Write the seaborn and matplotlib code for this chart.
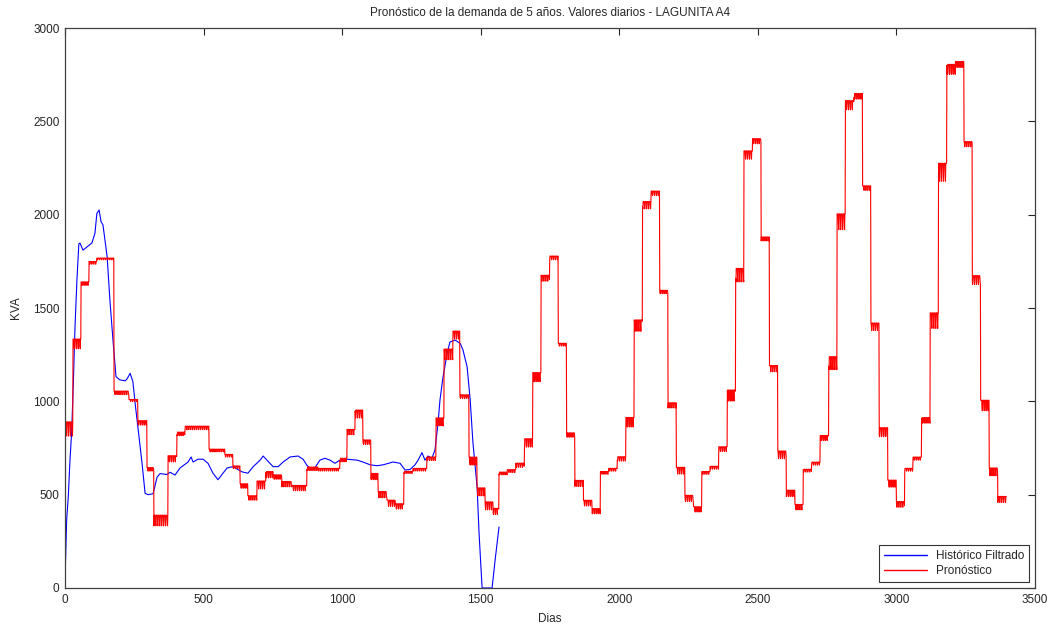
import numpy as np
import pandas as pd
import matplotlib
matplotlib.use("Agg")
import matplotlib.pyplot as plt
import seaborn as sns

# ---------------- data ----------------
# Histórico Filtrado (blue): day, KVA
hist_days = [0, 6, 12, 18, 24, 30, 36, 43, 50, 54, 65, 79, 97, 108, 115, 123, 130, 137,
             152, 162, 173, 184, 198, 217, 224, 235, 245, 253, 263, 278, 289, 300, 318,
             332, 343, 368, 379, 397, 415, 444, 455, 462, 480, 498, 516, 534, 552, 570,
             585, 606, 639, 660, 679, 704, 715, 733, 751, 769, 787, 812, 841, 859, 873,
             884, 902, 920, 938, 956, 974, 992, 1018, 1054, 1075, 1101, 1126, 1148, 1184,
             1209, 1227, 1245, 1263, 1274, 1288, 1299, 1310, 1324, 1335, 1346, 1353, 1364,
             1379, 1389, 1408, 1426, 1436, 1451, 1462, 1472, 1487, 1494, 1505, 1541, 1552,
             1566]
hist_kva = [40, 364, 493, 686, 835, 1093, 1393, 1650, 1843, 1848, 1810, 1827, 1848, 1900,
            2007, 2025, 1963, 1945, 1775, 1543, 1330, 1132, 1115, 1110, 1120, 1150, 1105,
            990, 862, 668, 507, 500, 505, 593, 613, 608, 620, 605, 643, 675, 702, 675, 690,
            690, 668, 615, 580, 615, 643, 650, 622, 615, 650, 685, 707, 678, 650, 650, 675,
            702, 707, 690, 657, 640, 645, 685, 695, 685, 668, 685, 690, 685, 675, 660, 655,
            660, 675, 668, 632, 635, 660, 685, 725, 685, 707, 695, 740, 883, 1007, 1130,
            1258, 1318, 1328, 1310, 1275, 1184, 1007, 777, 541, 295, 0, 0, 150, 327]

# Pronóstico (red), fitted part: segment start day, level, weekly swing (KVA)
fit_start = [0, 29, 58, 87, 115, 177, 231, 263, 296, 321, 372, 404, 433, 520, 577, 606,
             632, 660, 693, 725, 751, 783, 819, 873, 913, 992, 1018, 1047, 1075, 1104,
             1130, 1162, 1191, 1223, 1256, 1306, 1339, 1368, 1400, 1425, 1458, 1487, 1516,
             1545]
fit_level = [870, 1320, 1635, 1745, 1765, 1050, 1007, 890, 640, 375, 700, 830, 862, 740,
             712, 650, 552, 488, 562, 615, 600, 563, 542, 643, 637, 690, 842, 942, 787, 605,
             508, 462, 444, 622, 637, 697, 900, 1265, 1365, 1030, 690, 525, 450, 418]
fit_swing = [80, 55, 20, 15, 10, 20, 12, 25, 20, 60, 35, 20, 20, 15, 15, 15, 25, 25, 45,
             35, 25, 30, 30, 20, 15, 20, 30, 45, 25, 35, 35, 35, 30, 12, 15, 20, 45, 60,
             45, 20, 45, 45, 45, 35]

# Pronóstico (red), 5-year forecast: monthly levels per year
forecast_start_day = 1566
forecast_end_day = 3396
forecast_year1 = [617, 630, 663, 788, 1141, 1667, 1773, 1307, 825, 568, 462, 418]
forecast_year2 = [620, 637, 697, 900, 1420, 2060, 2120, 1590, 985, 637, 488, 428]
forecast_year3 = [620, 648, 750, 1045, 1693, 2330, 2400, 1875, 1183, 723, 515, 440]
forecast_year4 = [632, 670, 810, 1221, 1982, 2598, 2641, 2148, 1409, 846, 568, 455]
forecast_year5 = [637, 697, 905, 1452, 2250, 2791, 2812, 2384, 1661, 991, 632, 482]
month_swing_frac = [0.025, 0.025, 0.035, 0.06, 0.045, 0.02, 0.012, 0.012, 0.03, 0.06, 0.07, 0.07]
weekly_profile = [0.25, 0.25, 0.25, 0.25, 0.15, -0.45, -0.7]

title = "Pronóstico de la demanda de 5 años. Valores diarios - LAGUNITA A4"
x_ticks = [0, 500, 1000, 1500, 2000, 2500, 3000, 3500]
y_ticks = [0, 500, 1000, 1500, 2000, 2500, 3000]

# ---------------- build daily red series ----------------
seg_start = list(fit_start)
seg_level = list(fit_level)
seg_swing = list(fit_swing)
years = [forecast_year1, forecast_year2, forecast_year3, forecast_year4, forecast_year5]
month_len = (forecast_end_day - forecast_start_day) / 60.0
k = 0
for yr in years:
    for m, lev in enumerate(yr):
        seg_start.append(int(round(forecast_start_day + k * month_len)))
        seg_level.append(lev)
        seg_swing.append(month_swing_frac[m] * lev)
        k += 1

days = np.arange(0, forecast_end_day + 1)
idx = np.searchsorted(np.array(seg_start), days, side="right") - 1
lv = np.array(seg_level, dtype=float)[idx]
sw = np.array(seg_swing, dtype=float)[idx]
wp = np.array(weekly_profile)[days % 7]
red_vals = lv + sw * wp

df = pd.concat([
    pd.DataFrame({"Dias": hist_days, "KVA": hist_kva, "serie": "Histórico Filtrado"}),
    pd.DataFrame({"Dias": days, "KVA": red_vals, "serie": "Pronóstico"}),
], ignore_index=True)

# ---------------- plot ----------------
sns.set_style("white")
plt.rcParams["font.family"] = ["Liberation Sans", "DejaVu Sans"]

fig = plt.figure(figsize=(10.55, 6.24), dpi=100)
ax = fig.add_axes([65 / 1055, 36 / 624, 970 / 1055, 560 / 624])

sns.lineplot(data=df, x="Dias", y="KVA", hue="serie",
             hue_order=["Histórico Filtrado", "Pronóstico"],
             palette={"Histórico Filtrado": "#0000FF", "Pronóstico": "#FF0000"},
             estimator=None, sort=False, linewidth=0.8, ax=ax)

ax.set_xlim(0, 3500)
ax.set_ylim(0, 3000)
ax.set_xticks(x_ticks)
ax.set_yticks(y_ticks)
ax.tick_params(direction="in", length=5, width=0.8, top=True, right=True,
               labelsize=8.5, colors="#262626", pad=4)
for s in ax.spines.values():
    s.set_visible(True)
    s.set_color("#404040")
    s.set_linewidth(0.9)
ax.set_title(title, fontsize=8.5, color="#262626", pad=9)
ax.set_xlabel("Dias", fontsize=8.5, color="#262626", labelpad=5)
ax.set_ylabel("KVA", fontsize=8.5, color="#262626", labelpad=8)

leg = ax.legend(loc="lower right", fontsize=8.5, frameon=True, fancybox=False,
                edgecolor="black", borderaxespad=0.5, handlelength=3.6,
                borderpad=0.4, labelspacing=0.3)
leg.get_frame().set_linewidth(0.8)
for line in leg.get_lines():
    line.set_linewidth(1.0)

fig.savefig("out.png", dpi=100, facecolor="white")
